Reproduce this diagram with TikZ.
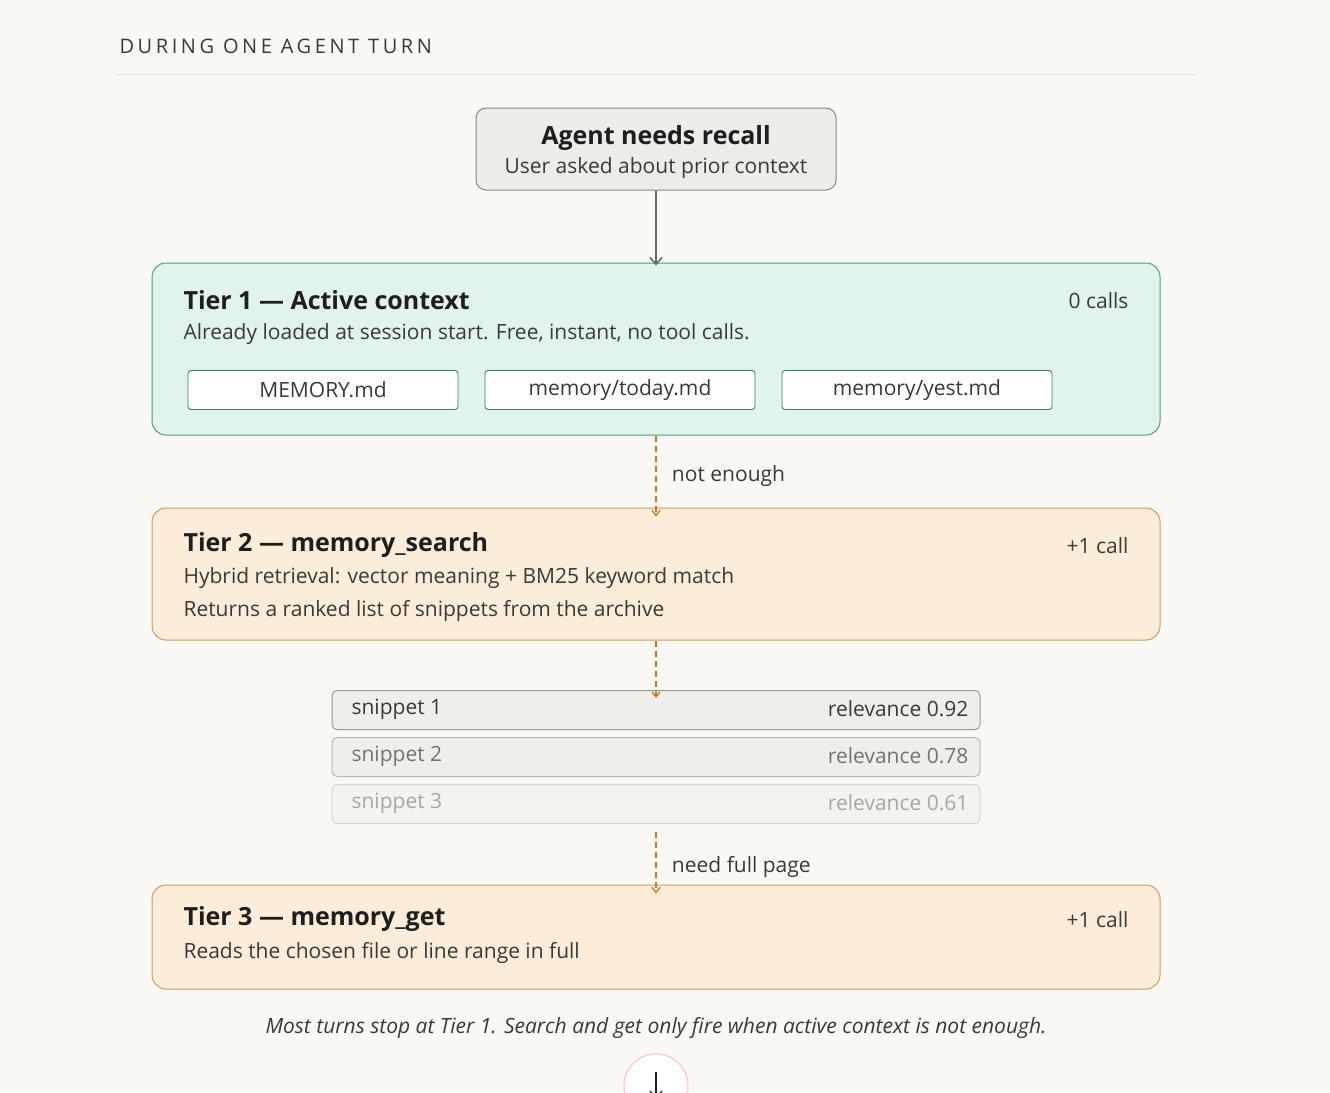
\documentclass[tikz,border=0pt]{standalone}
\usepackage{fontspec}
\setmainfont{Open Sans}
\usetikzlibrary{arrows.meta}
\definecolor{bg}{HTML}{F9F8F5}
\definecolor{ink}{HTML}{1F1E1C}
\definecolor{txt}{HTML}{3A3936}
\definecolor{tealf}{HTML}{E1F4EC}
\definecolor{teald}{HTML}{4E9A7E}
\definecolor{orf}{HTML}{FBEDDA}
\definecolor{ord}{HTML}{D49A55}
\definecolor{arr}{HTML}{C07A28}
\definecolor{grayb}{HTML}{8A8782}
\tikzset{
 x=1pt,y=-1pt,
 tier/.style={draw, rounded corners=14pt, line width=1pt},
 file/.style={draw=teald!80!black, fill=white, rounded corners=3pt, line width=0.9pt, minimum width=270pt, minimum height=39pt, font=\fontsize{21}{24}\selectfont, text=txt},
 snip/.style={rounded corners=5pt, line width=1pt, minimum width=648pt, minimum height=39pt},
 dashconn/.style={draw=arr, dash pattern=on 6pt off 4pt, line width=1.3pt, -{Straight Barb[length=5pt,width=8pt]}},
 hd/.style={anchor=west, font=\fontsize{25}{28}\selectfont\bfseries, text=ink},
 bd/.style={anchor=west, font=\fontsize{21}{24}\selectfont, text=txt},
 ct/.style={anchor=east, font=\fontsize{21}{24}\selectfont, text=txt},
 lbl/.style={anchor=west, font=\fontsize{21}{24}\selectfont, text=txt},
}
\begin{document}
\begin{tikzpicture}
\fill[bg] (0,0) rectangle (1330,1092);
\useasboundingbox (0,0) rectangle (1330,1092);
\begin{scope}
\clip (0,0) rectangle (1330,1092);
\node[anchor=west, font=\fontsize{20}{24}\selectfont, text=txt] (title) at (116,46) {\addfontfeature{LetterSpace=18}DURING ONE AGENT TURN};
\draw[line width=1pt, draw=black!12] (116,74) -- (1196,74);

\node[draw=grayb, fill=black!5!bg, rounded corners=10pt, line width=1pt, minimum width=360pt, minimum height=82pt, align=center] (agent) at (656,149) {};
\node[font=\fontsize{25}{28}\selectfont\bfseries, text=ink] (agentt) at (656,138) {Agent needs recall};
\node[font=\fontsize{21}{24}\selectfont, text=txt] (agents) at (656,168) {User asked about prior context};

% tier1
\node[tier, draw=teald, fill=tealf, minimum width=1008pt, minimum height=172pt] (t1) at (656,349) {};
\node[hd] (t1h) at (180,300) {Tier 1 — Active context};
\node[bd] (t1b) at (180,334) {Already loaded at session start. Free, instant, no tool calls.};
\node[ct] (t1c) at (1132,301) {0 calls};
\node[file] (f1) at (323,390) {MEMORY.md};
\node[file] (f2) at (620,390) {memory/today.md};
\node[file] (f3) at (917,390) {memory/yest.md};

% tier2
\node[tier, draw=ord, fill=orf, minimum width=1008pt, minimum height=132pt] (t2) at (656,574) {};
\node[hd] (t2h) at (180,545) {Tier 2 — memory\_search};
\node[bd] (t2b) at (180,578) {Hybrid retrieval: vector meaning + BM25 keyword match};
\node[bd] (t2c) at (180,611) {Returns a ranked list of snippets from the archive};
\node[ct] (t2n) at (1132,546) {+1 call};

% snippets
\node[snip, draw=black!40, fill=black!4!bg] (s1) at (656,710) {};
\node[snip, draw=black!28, fill=black!4!bg] (s2) at (656,757) {};
\node[snip, draw=black!16, fill=black!2!bg] (s3) at (656,804) {};
\foreach \i/\y/\c/\r in {1/709/txt/0.92, 2/756/black!55/0.78, 3/803/black!35/0.61}{
  \node[anchor=west, font=\fontsize{21}{24}\selectfont, text=\c] (sl\i) at (348,\y) {snippet \i};
  \node[anchor=east, font=\fontsize{21}{24}\selectfont, text=\c] (sr\i) at (972,\y) {relevance \r};
}

% tier3
\node[tier, draw=ord, fill=orf, minimum width=1008pt, minimum height=104pt] (t3) at (656,937) {};
\node[hd] (t3h) at (180,919) {Tier 3 — memory\_get};
\node[bd] (t3b) at (180,953) {Reads the chosen file or line range in full};
\node[ct] (t3n) at (1132,920) {+1 call};

\node[font=\fontsize{21}{24}\selectfont\itshape, text=txt] (note) at (656,1028) {Most turns stop at Tier 1. Search and get only fire when active context is not enough.};

% connectors
\draw[draw=black!60, line width=1.5pt, -{Straight Barb[length=7pt,width=12pt]}] (agent.south) -- ([yshift=-3pt]t1.north);
\draw[dashconn] (t1.south) -- ([yshift=-9pt]t2.north) node[lbl, midway, xshift=12pt] (l1) {not enough};
\draw[dashconn] (t2.south) -- ([yshift=-8pt]s1.north);
\draw[dashconn] ([yshift=-8pt]s3.south) -- ([yshift=-9pt]t3.north) node[lbl, midway, xshift=12pt, yshift=-4pt] (l2) {need full page};

% bottom circle
\node[circle, draw=red!25, fill=white, line width=1pt, minimum size=64pt] (btn) at (656,1086) {};
\coordinate (btop) at (656,1072);
\coordinate (bbot) at (656,1098);
\draw[draw=ink, line width=1.2pt, -{Straight Barb[length=6pt,width=12pt]}] (btop) -- (bbot);
\end{scope}
\end{tikzpicture}
\end{document}
